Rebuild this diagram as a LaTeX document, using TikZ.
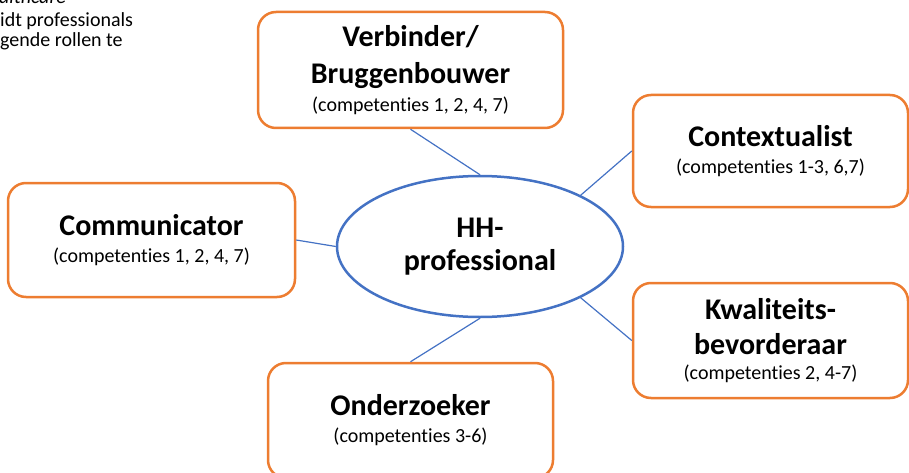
\documentclass[tikz,border=0pt]{standalone}
\usepackage{fontspec}
\setmainfont{Carlito}[Ligatures=NoCommon]
\usetikzlibrary{shapes.geometric}
\definecolor{rolecol}{HTML}{ED7D31}
\definecolor{corecol}{HTML}{4472C4}

\begin{document}
\begin{tikzpicture}[x = 1pt, y = -1pt,
                    role/.style = {draw = rolecol, line width = 2.5pt, rounded corners = 18pt, fill = white,
                                   align = center, inner sep = 0pt, font = \fontsize{20}{25}\selectfont},
                    core/.style = {ellipse, draw = corecol, line width = 2.5pt, fill = white, align = center,
                                   inner sep = 0pt, minimum width = 286pt, minimum height = 141pt,
                                   font = \bfseries\fontsize{30}{36}\selectfont},
                    link/.style = {draw = corecol, line width = 1.2pt},
                    note/.style = {anchor = base west, inner sep = 0pt, font = \fontsize{20}{24}\selectfont}]
  \path [use as bounding box] (0,0) rectangle (909,473);
  \clip (0,0) rectangle (909,473);

  \node [note] (N1) at (-1,4) {\itshape althcare};
  \node [note] (N2) at (0,27) {idt professionals};
  \node [note] (N3) at (0,47) {gende rollen te};

  \node [core] (HH) at (480,246.5) {HH-\\[-3pt]professional};

  \node [role, minimum width = 305pt, minimum height = 116pt] (VB) at (410.5,70)
        {{\bfseries\fontsize{30}{36}\selectfont Verbinder/}\\[12pt]{\bfseries\fontsize{30}{36}\selectfont Bruggenbouwer}\\[3pt](competenties 1, 2, 4, 7)};
  \node [role, minimum width = 275pt, minimum height = 112pt] (CT) at (770.5,151)
        {{\bfseries\fontsize{30}{36}\selectfont Contextualist}\\[2pt](competenties 1-3, 6,7)};
  \node [role, minimum width = 287pt, minimum height = 114pt] (CM) at (151.5,240)
        {{\bfseries\fontsize{30}{36}\selectfont Communicator}\\[2pt](competenties 1, 2, 4, 7)};
  \node [role, minimum width = 275pt, minimum height = 115pt] (KW) at (770.5,340.5)
        {{\bfseries\fontsize{30}{36}\selectfont Kwaliteits-}\\[10pt]{\bfseries\fontsize{30}{36}\selectfont bevorderaar}\\(competenties 2, 4-7)};
  \node [role, minimum width = 285pt, minimum height = 115pt] (OZ) at (410.5,420.5)
        {{\bfseries\fontsize{30}{36}\selectfont Onderzoeker}\\[2pt](competenties 3-6)};

  \draw [link] (HH.north) -- (VB.south);
  \draw [link] (HH.27) -- (CT.west);
  \draw [link] (HH.west) -- (CM.east);
  \draw [link] (HH.-27) -- (KW.west);
  \draw [link] (HH.south) -- (OZ.north);
\end{tikzpicture}
\end{document}
